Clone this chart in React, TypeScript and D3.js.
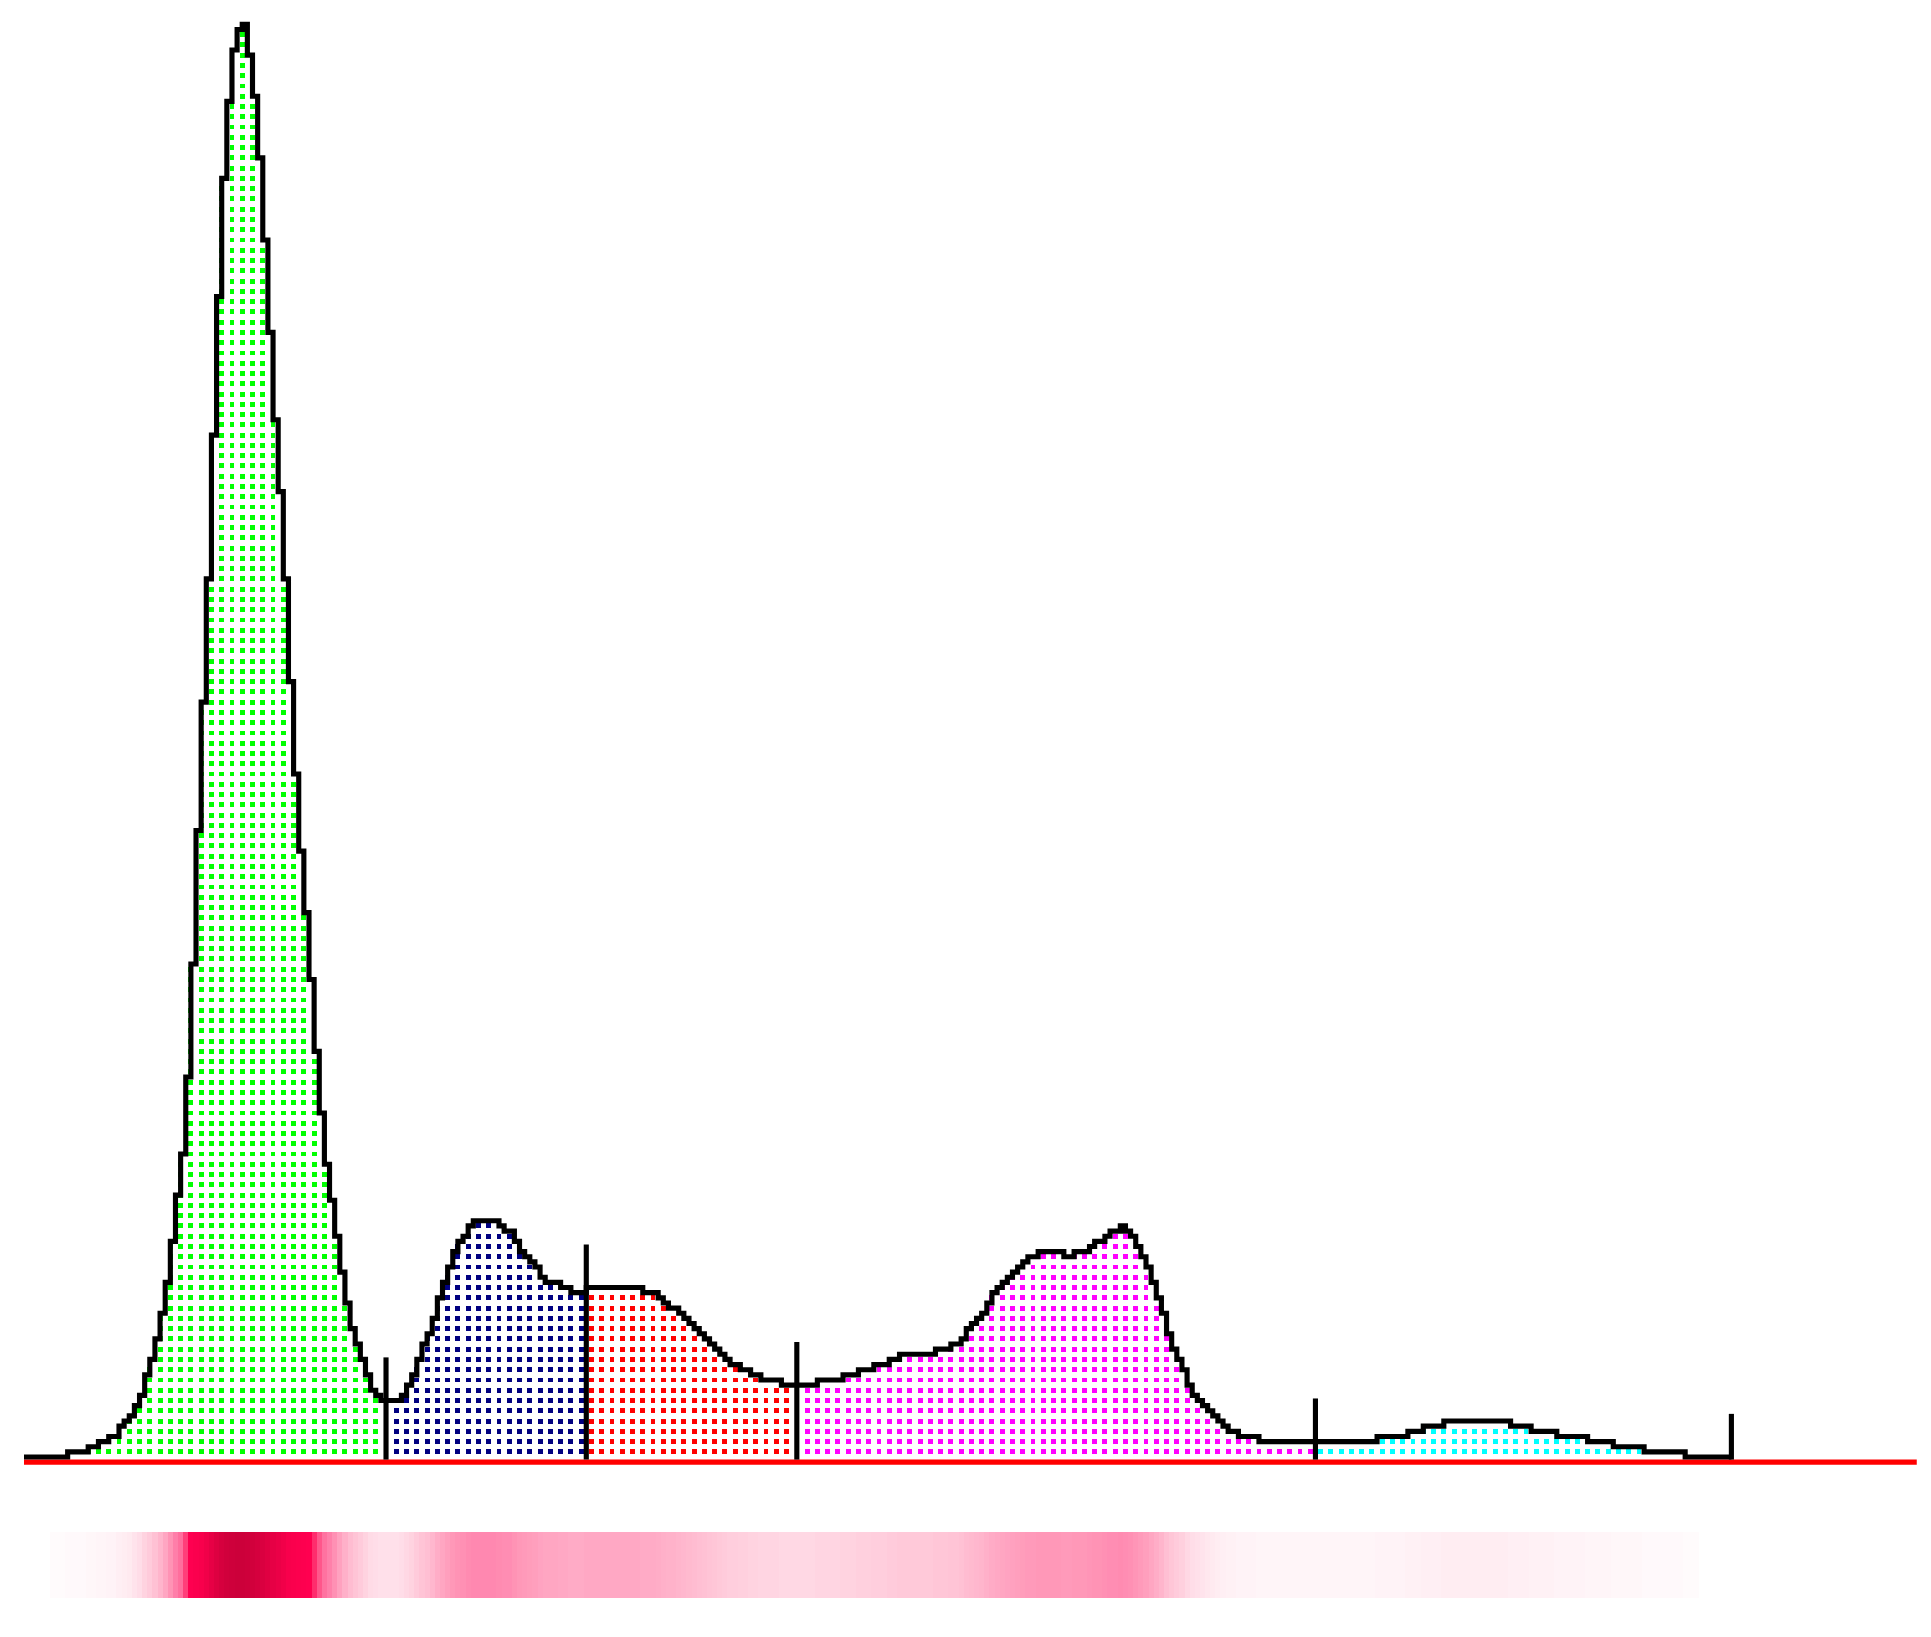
import React, { useEffect } from 'react';
import * as d3 from 'd3';

// Densitometric scan profile: one intensity value per scan column
const profile: number[] = [
  0, 0, 0, 0, 0, 0, 0, 0, 1, 1,
  1, 1, 2, 2, 3, 3, 4, 4, 6, 7,
  8, 10, 12, 16, 19, 23, 28, 34, 42, 51,
  59, 74, 96, 122, 147, 171, 199, 226, 249, 264,
  274, 278, 279, 273, 265, 253, 237, 219, 202, 188,
  171, 151, 133, 118, 106, 93, 79, 67, 57, 50,
  43, 36, 30, 25, 22, 19, 16, 13, 12, 11,
  11, 11, 11, 12, 14, 16, 19, 22, 24, 27,
  31, 34, 37, 40, 42, 43, 45, 46, 46, 46,
  46, 46, 45, 44, 44, 42, 40, 39, 38, 37,
  35, 34, 34, 34, 33, 33, 32, 32, 32, 33,
  33, 33, 33, 33, 33, 33, 33, 33, 33, 33,
  32, 32, 32, 31, 30, 29, 29, 28, 27, 26,
  25, 24, 23, 22, 21, 20, 19, 18, 18, 17,
  17, 16, 16, 15, 15, 15, 15, 14, 14, 14,
  14, 14, 14, 14, 15, 15, 15, 15, 15, 16,
  16, 16, 17, 17, 17, 18, 18, 18, 19, 19,
  20, 20, 20, 20, 20, 20, 20, 21, 21, 21,
  22, 22, 23, 25, 26, 27, 28, 30, 32, 33,
  34, 35, 36, 37, 38, 39, 39, 40, 40, 40,
  40, 40, 39, 39, 40, 40, 40, 41, 42, 42,
  43, 44, 44, 45, 44, 43, 41, 39, 37, 34,
  31, 28, 24, 21, 19, 17, 14, 12, 11, 10,
  9, 8, 7, 6, 5, 5, 4, 4, 4, 4,
  3, 3, 3, 3, 3, 3, 3, 3, 3, 3,
  3, 3, 3, 3, 3, 3, 3, 3, 3, 3,
  3, 3, 3, 4, 4, 4, 4, 4, 4, 5,
  5, 5, 6, 6, 6, 6, 7, 7, 7, 7,
  7, 7, 7, 7, 7, 7, 7, 7, 7, 6,
  6, 6, 6, 5, 5, 5, 5, 5, 4, 4,
  4, 4, 4, 4, 3, 3, 3, 3, 3, 2,
  2, 2, 2, 2, 2, 1, 1, 1, 1, 1,
  1, 1, 1, 0, 0, 0, 0, 0, 0, 0,
  0, 0, 0,
];

// Band separator markers (column index) and band fill colours
const markers: number[] = [70, 109, 150, 251, 332];
const bandColors: string[] = ['#00ff00', '#000080', '#ff0000', '#ff00ff', '#00ffff'];

// Lane (gel strip) colour ramp: intensity stops and colours
const laneStops: number[] = [0, 3, 7, 11, 15, 20, 33, 40, 46, 60, 75, 90, 150, 279];
const laneColors: string[] = [
  '#fffbfc', '#fff5f8', '#ffedf2', '#ffe0ea', '#ffd5e2', '#ffc9d9', '#ffa8c4',
  '#ff98b8', '#ff88b0', '#ff6c9c', '#ff3c78', '#ff0050', '#f8004c', '#cc003a',
];
const laneSpan: number[] = [5, 326];
const axisEnd = 368.6;

const W = 1931;
const H = 1637;
const PX = 5.135; // size of one scan column
const X0 = 24;
const Y0 = 1457;
const LANE_Y = 1532;
const LANE_H = 66;
const DOT = 4.9;

export default function App() {
  useEffect(() => {
    document.body.style.margin = '0';
    document.body.style.overflow = 'hidden';
  }, []);

  const n = profile.length;
  const x = d3.scaleLinear().domain([0, n]).range([X0, X0 + PX * n]);
  const y = d3.scaleLinear().domain([0, 279]).range([Y0, Y0 - PX * 279]);
  const laneColor = d3
    .scaleLinear<string>()
    .domain(laneStops)
    .range(laneColors)
    .interpolate(d3.interpolateRgb)
    .clamp(true);

  const pts: [number, number][] = [[0, profile[0]]];
  profile.forEach((v, i) => pts.push([i + 0.5, v]));

  const line = d3
    .line<[number, number]>()
    .x((d) => x(d[0]))
    .y((d) => y(d[1]))
    .curve(d3.curveStepAfter);

  const bandOf = (c: number) => {
    const k = markers.findIndex((m) => c <= m);
    return k < 0 ? markers.length - 1 : k;
  };

  const dots: JSX.Element[] = [];
  profile.forEach((v, c) => {
    if (c % 2 !== 0 || markers.includes(c)) return;
    const col = bandColors[bandOf(c)];
    for (let r = 1; r <= v - 1; r += 2) {
      dots.push(
        <rect
          key={`d${c}_${r}`}
          x={x(c + 0.5) - DOT / 2}
          y={y(r) - DOT / 2}
          width={DOT}
          height={DOT}
          fill={col}
        />
      );
    }
  });

  const lane: JSX.Element[] = [];
  for (let c = laneSpan[0]; c < laneSpan[1]; c++) {
    lane.push(
      <rect
        key={`l${c}`}
        x={x(c)}
        y={LANE_Y}
        width={PX + 0.6}
        height={LANE_H}
        fill={laneColor(profile[c])}
      />
    );
  }

  return (
    <svg
      width={W}
      height={H}
      style={{ position: 'absolute', left: 0, top: 0, background: '#ffffff' }}
    >
      <rect x={0} y={0} width={W} height={H} fill="#ffffff" />
      <g shapeRendering="crispEdges">{lane}</g>
      <g shapeRendering="crispEdges">{dots}</g>
      <line
        x1={x(0)}
        x2={x(axisEnd)}
        y1={y(-1)}
        y2={y(-1)}
        stroke="#ff0000"
        strokeWidth={PX}
      />
      <path
        d={line(pts) || ''}
        fill="none"
        stroke="#000000"
        strokeWidth={PX}
        strokeLinejoin="miter"
        strokeLinecap="butt"
      />
      {markers.map((m) => (
        <line
          key={`m${m}`}
          x1={x(m + 0.5)}
          x2={x(m + 0.5)}
          y1={y(-0.5)}
          y2={y(profile[m] + 8.4)}
          stroke="#000000"
          strokeWidth={PX}
        />
      ))}
    </svg>
  );
}
